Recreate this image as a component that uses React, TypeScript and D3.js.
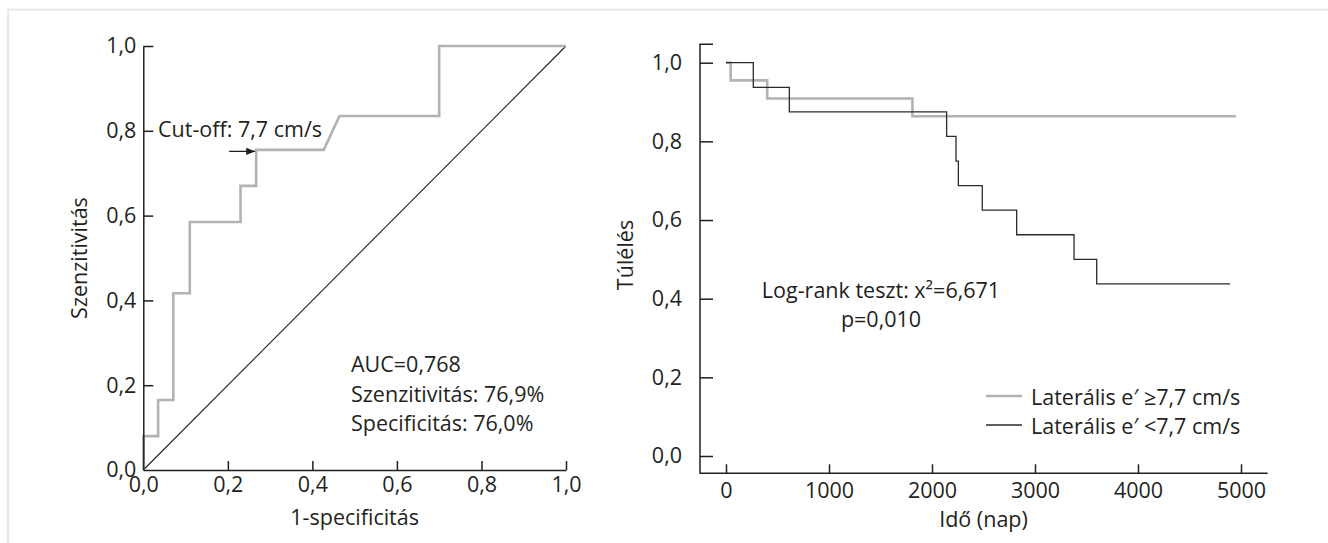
import React, { useRef, useEffect } from 'react';
import * as d3 from 'd3';

// ROC curve vertices (1-specificity, sensitivity)
const rocFpr = [0, 0, 0.035, 0.035, 0.071, 0.071, 0.11, 0.11, 0.23, 0.23, 0.267, 0.267, 0.427, 0.464, 0.7, 0.7, 1.0];
const rocTpr = [0, 0.08, 0.08, 0.165, 0.165, 0.417, 0.417, 0.585, 0.585, 0.67, 0.67, 0.755, 0.755, 0.835, 0.835, 1.0, 1.0];
const cutoffPoint = [0.267, 0.755];
const rocTicks = [0, 0.2, 0.4, 0.6, 0.8, 1.0];
const rocStats = ['AUC=0,768', 'Szenzitivitás: 76,9%', 'Specificitás: 76,0%'];

// Kaplan-Meier steps (days, survival)
const highTimes = [0, 45, 400, 1810, 4950];
const highSurv = [1, 0.955, 0.909, 0.864, 0.864];
const lowTimes = [0, 265, 615, 2142, 2233, 2256, 2488, 2822, 3379, 3599, 4893];
const lowSurv = [1, 0.9375, 0.875, 0.8125, 0.75, 0.6875, 0.625, 0.5625, 0.5, 0.4375, 0.4375];
const kmXTicks = [0, 1000, 2000, 3000, 4000, 5000];
const kmYTicks = [0, 0.2, 0.4, 0.6, 0.8, 1.0];
const legendLabels = ['Laterális e′ ≥7,7 cm/s', 'Laterális e′ <7,7 cm/s'];

const INK = '#231f20';
const GRAY = '#b3b3b3';
const FONT = '"Open Sans", Lato, sans-serif';
const FS = 21.5;
const comma = (d) => d3.format('.1f')(d).replace('.', ',');

const App = () => {
  const ref = useRef();
  useEffect(() => {
    const svg = d3.select(ref.current);
    svg.selectAll('*').remove();
    svg.attr('font-family', FONT).attr('fill', INK);

    // frame
    svg.append('path').attr('d', 'M8,560 L8,9.5 L1340,9.5').attr('fill', 'none').attr('stroke', '#e2e2e2').attr('stroke-width', 1.5);

    // ---------- ROC ----------
    const xL = d3.scaleLinear().domain([0, 1]).range([143.3, 566]);
    const yL = d3.scaleLinear().domain([0, 1]).range([470, 46]);
    const gL = svg.append('g');

    gL.append('line').attr('x1', xL(0)).attr('y1', yL(0)).attr('x2', xL(1)).attr('y2', yL(1)).attr('stroke', INK).attr('stroke-width', 1.1);

    const rocLine = d3.line().x((d) => xL(d[0])).y((d) => yL(d[1]));
    gL.append('path').datum(rocFpr.map((f, i) => [f, rocTpr[i]])).attr('d', rocLine)
      .attr('fill', 'none').attr('stroke', GRAY).attr('stroke-width', 2.6).attr('stroke-linejoin', 'miter');

    const axL = gL.append('g').attr('transform', `translate(0,${yL(0)})`)
      .call(d3.axisBottom(xL).tickValues(rocTicks).tickFormat(comma).tickSizeInner(-9).tickSizeOuter(0).tickPadding(7));
    const ayL = gL.append('g').attr('transform', `translate(${xL(0)},0)`)
      .call(d3.axisLeft(yL).tickValues(rocTicks).tickFormat(comma).tickSizeInner(-10).tickSizeOuter(0).tickPadding(7));
    [axL, ayL].forEach((a) => {
      a.select('.domain').attr('stroke', INK).attr('stroke-width', 1.5);
      a.selectAll('.tick line').attr('stroke', INK).attr('stroke-width', 1.5);
      a.selectAll('.tick text').attr('fill', INK).attr('font-size', FS).attr('font-family', FONT);
    });
    axL.selectAll('.tick line').filter((d) => d === 0).remove();
    ayL.selectAll('.tick line').filter((d) => d === 0).remove();

    // cut-off arrow
    const [cx, cy] = cutoffPoint;
    svg.append('defs').append('marker').attr('id', 'arr').attr('viewBox', '0 0 10 10').attr('refX', 10).attr('refY', 5)
      .attr('markerWidth', 9).attr('markerHeight', 9).attr('markerUnits', 'userSpaceOnUse').attr('orient', 'auto')
      .append('path').attr('d', 'M0,1 L10,5 L0,9 Z').attr('fill', INK);
    gL.append('line').attr('x1', xL(cx) - 27).attr('y1', yL(cy) + 1.5).attr('x2', xL(cx) - 1).attr('y2', yL(cy) + 1.5)
      .attr('stroke', INK).attr('stroke-width', 1.3).attr('marker-end', 'url(#arr)');
    gL.append('text').attr('x', 158).attr('y', 137).attr('font-size', FS).text('Cut-off: 7,7 cm/s');

    gL.selectAll('.stat').data(rocStats).join('text').attr('class', 'stat')
      .attr('x', 351).attr('y', (d, i) => 372 + i * 29.5).attr('font-size', FS).text((d) => d);

    gL.append('text').attr('x', (xL(0) + xL(1)) / 2).attr('y', 525).attr('text-anchor', 'middle').attr('font-size', FS).text('1-specificitás');
    gL.append('text').attr('transform', `translate(87,${(yL(0) + yL(1)) / 2}) rotate(-90)`).attr('text-anchor', 'middle')
      .attr('font-size', FS).text('Szenzitivitás');

    // ---------- Kaplan-Meier ----------
    const xR = d3.scaleLinear().domain([0, 5000]).range([726, 1241]);
    const yR = d3.scaleLinear().domain([0, 1]).range([456, 62.7]);
    const gR = svg.append('g');
    const x0 = 700;
    const yBase = yR(-0.044);
    const yTop = yR(1.047);

    const step = d3.line().curve(d3.curveStepAfter).x((d) => xR(d[0])).y((d) => yR(d[1]));
    gR.append('path').datum(highTimes.map((t, i) => [t, highSurv[i]])).attr('d', step)
      .attr('fill', 'none').attr('stroke', GRAY).attr('stroke-width', 2.6);
    gR.append('path').datum(lowTimes.map((t, i) => [t, lowSurv[i]])).attr('d', step)
      .attr('fill', 'none').attr('stroke', '#2b2b2b').attr('stroke-width', 1.3);

    // axes
    gR.append('path').attr('d', `M${x0 + 13},${yTop} H${x0} V${yBase} H${xR(5259)}`)
      .attr('fill', 'none').attr('stroke', INK).attr('stroke-width', 1.5);
    const axR = gR.append('g').attr('transform', `translate(0,${yBase})`)
      .call(d3.axisBottom(xR).tickValues(kmXTicks).tickFormat(d3.format('d')).tickSizeInner(-9).tickSizeOuter(0).tickPadding(9));
    const ayR = gR.append('g').attr('transform', `translate(${x0},0)`)
      .call(d3.axisLeft(yR).tickValues(kmYTicks).tickFormat(comma).tickSizeInner(-13).tickSizeOuter(0).tickPadding(18));
    [axR, ayR].forEach((a) => {
      a.select('.domain').remove();
      a.selectAll('.tick line').attr('stroke', INK).attr('stroke-width', 1.5);
      a.selectAll('.tick text').attr('fill', INK).attr('font-size', FS).attr('font-family', FONT);
    });

    gR.append('text').attr('x', 881).attr('y', 298).attr('text-anchor', 'middle').attr('font-size', FS).text('Log-rank teszt: x²=6,671');
    gR.append('text').attr('x', 881).attr('y', 327).attr('text-anchor', 'middle').attr('font-size', FS).text('p=0,010');

    const lg = gR.selectAll('.lg').data(legendLabels).join('g').attr('class', 'lg')
      .attr('transform', (d, i) => `translate(986,${396 + i * 29})`);
    lg.append('line').attr('x1', 0).attr('x2', 36).attr('y1', 0).attr('y2', 0)
      .attr('stroke', (d, i) => (i === 0 ? GRAY : '#2b2b2b')).attr('stroke-width', (d, i) => (i === 0 ? 2.6 : 1.3));
    lg.append('text').attr('x', 45).attr('y', 9).attr('font-size', FS).text((d) => d);

    gR.append('text').attr('x', (xR(0) + xR(5000)) / 2).attr('y', 527).attr('text-anchor', 'middle').attr('font-size', FS).text('Idő (nap)');
    gR.append('text').attr('transform', `translate(633,255) rotate(-90)`).attr('text-anchor', 'middle')
      .attr('font-size', FS).text('Túlélés');
  }, []);

  return (
    <svg ref={ref} width={1328} height={543}
      style={{ position: 'absolute', left: 0, top: 0, background: '#fff' }} />
  );
};

export default App;
